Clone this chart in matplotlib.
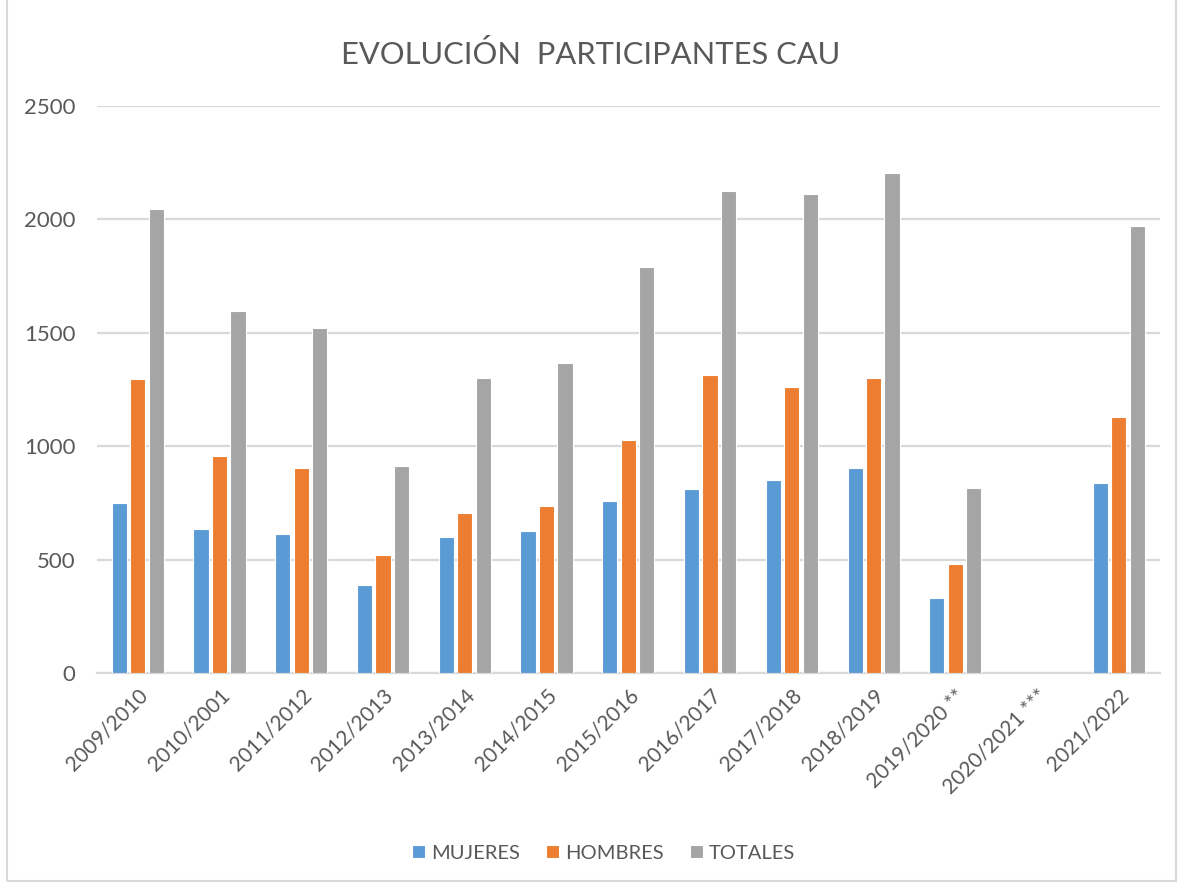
import numpy as np
import matplotlib
matplotlib.use("Agg")
import matplotlib.pyplot as plt
from matplotlib.patches import Rectangle

plt.rcParams['font.family'] = ['Lato', 'DejaVu Sans']

categories = ["2009/2010", "2010/2001", "2011/2012", "2012/2013", "2013/2014",
              "2014/2015", "2015/2016", "2016/2017", "2017/2018", "2018/2019",
              "2019/2020 **", "2020/2021 ***", "2021/2022"]
mujeres = [748, 635, 613, 386, 601, 628, 760, 810, 849, 906, 330, np.nan, 839]
hombres = [1295, 958, 906, 522, 704, 738, 1029, 1312, 1262, 1300, 482, np.nan, 1130]
totales = [2045, 1594, 1521, 911, 1300, 1368, 1791, 2124, 2113, 2204, 815, np.nan, 1971]
series_names = ["MUJERES", "HOMBRES", "TOTALES"]
colors = ["#5B9BD5", "#ED7D31", "#A5A5A5"]

fig = plt.figure(figsize=(11.81, 8.86), dpi=100)
ax = fig.add_axes([0.082, 0.2404, 0.9, 0.64])

x = np.arange(len(categories))
w = 0.185
off = 0.226
for i, (vals, name, c) in enumerate(zip([mujeres, hombres, totales], series_names, colors)):
    ax.bar(x + (i - 1) * off, vals, width=w, color=c, edgecolor="white", linewidth=0.8,
           label=name, zorder=3)

ax.set_xlim(-0.5, len(categories) - 0.5)
ax.set_ylim(0, 2500)
ax.set_yticks([0, 500, 1000, 1500, 2000, 2500])
ax.yaxis.grid(True, color="#d9d9d9", linewidth=1.6, zorder=0)
ax.set_axisbelow(True)
for s in ["top", "right", "left"]:
    ax.spines[s].set_visible(False)
ax.spines["bottom"].set_color("#d9d9d9")
ax.spines["bottom"].set_linewidth(1.6)
ax.tick_params(axis="both", length=0, colors="#595959")
ax.tick_params(axis="y", pad=15.5, labelsize=16)
ax.set_xticks(x)
ax.set_xticklabels(categories, rotation=45, ha="right", rotation_mode="anchor")
ax.tick_params(axis="x", pad=9, labelsize=15)

fig.text(0.5, 0.939, "EVOLUCIÓN  PARTICIPANTES CAU", ha="center", va="center",
         fontsize=22.2, color="#595959")

leg = fig.legend(loc="center", bbox_to_anchor=(0.511, 0.037), ncol=3, frameon=False,
                 fontsize=14.5, labelcolor="#595959", handlelength=0.65, handleheight=0.65,
                 handletextpad=0.3, columnspacing=1.3)

fig.patches.append(Rectangle((0.006, 0.006), 0.99, 1.2, transform=fig.transFigure,
                             fill=False, edgecolor="#d9d9d9", linewidth=1.5))

fig.savefig("out.png", dpi=100)
